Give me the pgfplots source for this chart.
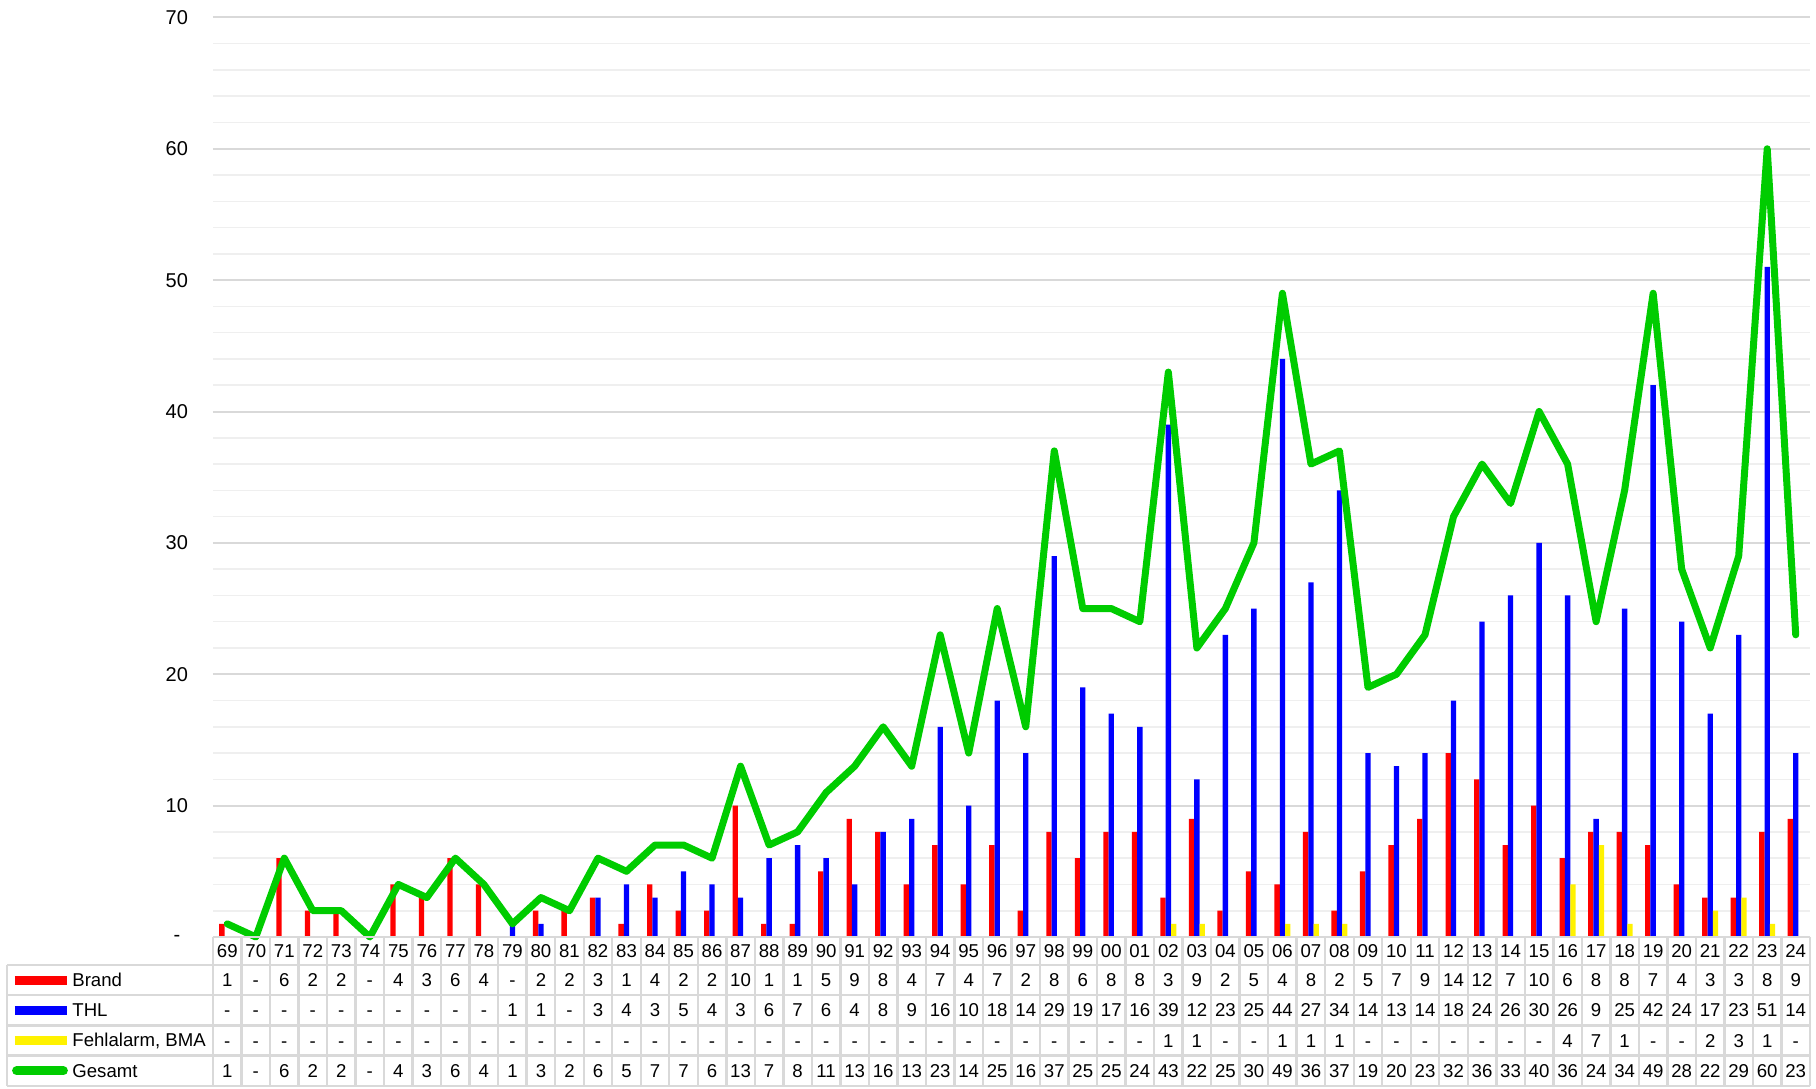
\documentclass[border=0pt]{standalone}
\usepackage{fontspec}
\setmainfont{Liberation Sans}
\usepackage{pgfplots}
\pgfplotsset{compat=1.18}
\usepackage{pgfplotstable}
\definecolor{grmaj}{HTML}{D9D9D9}
\definecolor{grmin}{HTML}{EFEFEF}
\definecolor{tabline}{HTML}{D9D9D9}
\definecolor{gline}{HTML}{00CC00}

\pgfplotstableread{
x yr Brand THL Fehl Gesamt
0 69 1 0 0 1
1 70 0 0 0 0
2 71 6 0 0 6
3 72 2 0 0 2
4 73 2 0 0 2
5 74 0 0 0 0
6 75 4 0 0 4
7 76 3 0 0 3
8 77 6 0 0 6
9 78 4 0 0 4
10 79 0 1 0 1
11 80 2 1 0 3
12 81 2 0 0 2
13 82 3 3 0 6
14 83 1 4 0 5
15 84 4 3 0 7
16 85 2 5 0 7
17 86 2 4 0 6
18 87 10 3 0 13
19 88 1 6 0 7
20 89 1 7 0 8
21 90 5 6 0 11
22 91 9 4 0 13
23 92 8 8 0 16
24 93 4 9 0 13
25 94 7 16 0 23
26 95 4 10 0 14
27 96 7 18 0 25
28 97 2 14 0 16
29 98 8 29 0 37
30 99 6 19 0 25
31 00 8 17 0 25
32 01 8 16 0 24
33 02 3 39 1 43
34 03 9 12 1 22
35 04 2 23 0 25
36 05 5 25 0 30
37 06 4 44 1 49
38 07 8 27 1 36
39 08 2 34 1 37
40 09 5 14 0 19
41 10 7 13 0 20
42 11 9 14 0 23
43 12 14 18 0 32
44 13 12 24 0 36
45 14 7 26 0 33
46 15 10 30 0 40
47 16 6 26 4 36
48 17 8 9 7 24
49 18 8 25 1 34
50 19 7 42 0 49
51 20 4 24 0 28
52 21 3 17 2 22
53 22 3 23 3 29
54 23 8 51 1 60
55 24 9 14 0 23
}\data

\newcommand{\tabfont}{\fontsize{9.3}{11}\selectfont}

\begin{document}
\begin{tikzpicture}
\begin{axis}[
  scale only axis,
  width=798.5pt, height=459.8pt,
  xmin=-0.5, xmax=55.5, ymin=0, ymax=70,
  clip=false,
  axis line style={draw=none},
  xtick=\empty,
  ytick={0,10,...,70},
  yticklabels={\makebox[1.1em][c]{\raisebox{-2.5pt}[0pt][0pt]{-}},10,20,30,40,50,60,70},
  minor y tick num=4,
  ymajorgrids, yminorgrids,
  major grid style={grmaj, line width=1pt},
  minor grid style={grmin, line width=0.8pt},
  tick style={draw=none},
  yticklabel style={font=\fontsize{10}{12}\selectfont, xshift=-9pt},
  table/x=x,
  tabtext/.style={draw=none, mark=none, point meta=explicit symbolic,
    nodes near coords align={center},
    every node near coord/.append style={font=\tabfont, text=black, inner sep=0pt,
      text height=6.7pt, text depth=0pt}},
  dashzero/.style={nodes near coords={\ifnum\pgfplotspointmeta=0 -\else\pgfplotspointmeta\fi}},
]
% bars
\addplot[ybar, bar width=2.67pt, bar shift=-2.67pt, fill=red, draw=none] table[y=Brand]{\data};
\addplot[ybar, bar width=2.67pt, bar shift=0pt, fill=blue, draw=none] table[y=THL]{\data};
\addplot[ybar, bar width=2.67pt, bar shift=2.67pt, fill=yellow, draw=none] table[y=Fehl]{\data};
% total line
\addplot[gline, line width=3.5pt, line join=round, line cap=round, mark=none] table[y=Gesamt]{\data};

% table grid
\draw[tabline, line width=1.2pt] (axis cs:-0.5,0) -- (axis cs:55.5,0);
\pgfplotsinvokeforeach{-2.13,-4.43,-6.73,-9.03,-11.33}{
  \draw[tabline, line width=1.2pt] (axis cs:-7.72,#1) -- (axis cs:55.5,#1);
}
\pgfplotsinvokeforeach{-0.5,0.5,...,55.5}{
  \draw[tabline, line width=1.2pt] (axis cs:#1,0) -- (axis cs:#1,-11.33);
}
\draw[tabline, line width=1.2pt] (axis cs:-7.72,-2.13) -- (axis cs:-7.72,-11.33);

% table text
\addplot[tabtext, nodes near coords={\pgfplotspointmeta}] table[y expr=-1.07, meta=yr]{\data};
\addplot[tabtext, dashzero] table[y expr=-3.28, meta=Brand]{\data};
\addplot[tabtext, dashzero] table[y expr=-5.58, meta=THL]{\data};
\addplot[tabtext, dashzero] table[y expr=-7.88, meta=Fehl]{\data};
\addplot[tabtext, dashzero] table[y expr=-10.18, meta=Gesamt]{\data};

% legend keys and names
\draw[red, line width=4.5pt] ([xshift=-99pt]axis cs:-0.5,-3.28) -- ([xshift=-73pt]axis cs:-0.5,-3.28);
\draw[blue, line width=4.5pt] ([xshift=-99pt]axis cs:-0.5,-5.58) -- ([xshift=-73pt]axis cs:-0.5,-5.58);
\draw[yellow, line width=4.5pt] ([xshift=-99pt]axis cs:-0.5,-7.88) -- ([xshift=-73pt]axis cs:-0.5,-7.88);
\draw[gline, line width=4.5pt, line cap=round] ([xshift=-98.2pt]axis cs:-0.5,-10.18) -- ([xshift=-74.8pt]axis cs:-0.5,-10.18);
\node[anchor=west, font=\tabfont, inner sep=0pt] at ([xshift=-70.5pt]axis cs:-0.5,-3.28) {Brand};
\node[anchor=west, font=\tabfont, inner sep=0pt] at ([xshift=-70.5pt]axis cs:-0.5,-5.58) {THL};
\node[anchor=west, font=\tabfont, inner sep=0pt] at ([xshift=-70.5pt]axis cs:-0.5,-7.88) {Fehlalarm, BMA};
\node[anchor=west, font=\tabfont, inner sep=0pt] at ([xshift=-70.5pt]axis cs:-0.5,-10.18) {Gesamt};
\end{axis}
\pgfresetboundingbox
\path[use as bounding box] ([xshift=-106.5pt,yshift=-76pt]current axis.south west) rectangle ([xshift=3pt,yshift=8.7pt]current axis.north east);
\end{tikzpicture}
\end{document}
